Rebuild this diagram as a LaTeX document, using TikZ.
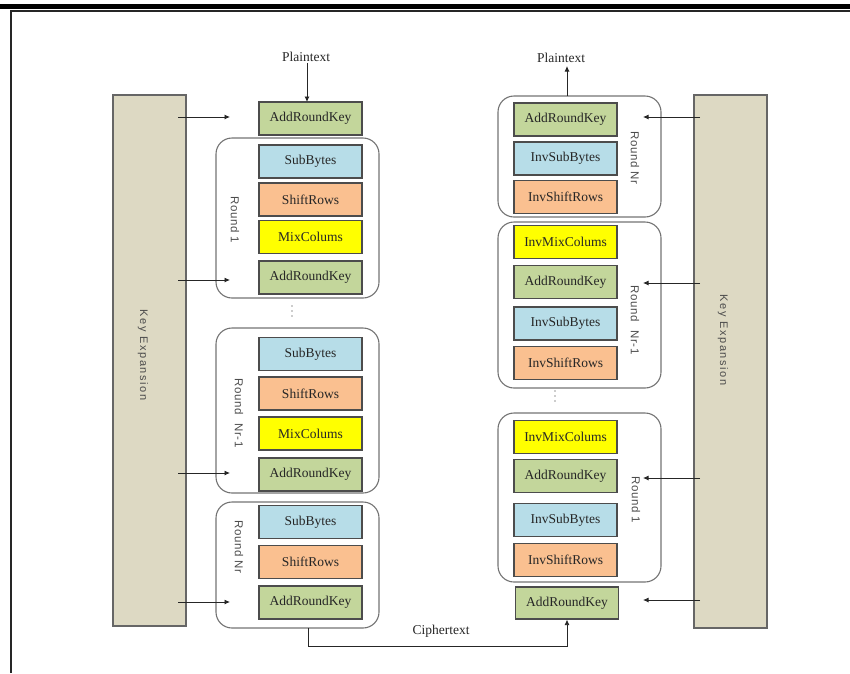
\documentclass[tikz,border=0pt]{standalone}
\usepackage{fontspec}
\setmainfont{Liberation Serif}
\newfontfamily\lblsans[LetterSpace=5]{Liberation Sans}
\newfontfamily\kesans[LetterSpace=14]{Liberation Sans}
\usetikzlibrary{arrows.meta,calc}
\definecolor{cgreen}{HTML}{C3D69B}
\definecolor{cblue}{HTML}{B7DDE8}
\definecolor{corange}{HTML}{FAC090}
\definecolor{cyellow}{HTML}{FFFF00}
\definecolor{ckey}{HTML}{DDD9C3}
\tikzset{
  op/.style={rectangle, draw=black!70, line width=1.2pt, minimum width=103pt, minimum height=33pt, inner sep=0pt, text=black!85, font=\fontsize{13.5}{15}\selectfont},
  ark/.style={op, fill=cgreen},
  sbx/.style={op, fill=cblue},
  srx/.style={op, fill=corange},
  mcx/.style={op, fill=cyellow},
  rnd/.style={draw=black!55, line width=1.1pt, rounded corners=16pt},
  keybox/.style={draw=black!60, fill=ckey, line width=1.2pt},
  rlabel/.style={rotate=-90, text=black!70, font=\lblsans\fontsize{11.5}{13}\selectfont},
  klabel/.style={rotate=-90, text=black!70, font=\kesans\fontsize{11}{13}\selectfont},
  ptxt/.style={font=\fontsize{13.5}{15}\selectfont, text=black!85, inner sep=1pt},
  arr/.style={-{Latex[length=5.5pt,width=5pt]}, line width=0.8pt, black!85},
  dotf/.style={fill=black!40, circle, inner sep=0pt, minimum size=1.6pt}
}
\begin{document}
\begin{tikzpicture}[x=1pt,y=-1pt]
\useasboundingbox (0,0) rectangle (850,673);
% frame
\fill[black] (0,4) rectangle (850,8.5);
\draw[line width=1.5pt, black!85] (11,673) -- (11,11) -- (850,11);

% key expansion boxes
\draw[keybox] (113,95) rectangle (186,626);
\draw[keybox] (694,95) rectangle (767,628);
\node[klabel] (kel) at (143,355) {Key Expansion};
\node[klabel] (ker) at (723,340) {Key Expansion};

% left rounded boxes
\draw[rnd] (216,138) rectangle (379,298);
\draw[rnd] (216,328) rectangle (379,493);
\draw[rnd] (216,502) rectangle (379,628);
\coordinate (lrnbot) at (308,628);

% right rounded boxes
\draw[rnd] (498,96) rectangle (661,217);
\coordinate (rrntop) at (567,96);
\draw[rnd] (498,222) rectangle (661,388);
\draw[rnd] (498,413) rectangle (661,582);

% left column
\node[ark] (lark0) at (310.5,118.5) {AddRoundKey};
\node[sbx] (lsb1) at (310.5,161.5) {SubBytes};
\node[srx] (lsr1) at (310.5,199.5) {ShiftRows};
\node[mcx] (lmc1) at (310.5,237) {MixColums};
\node[ark] (lark1) at (310.5,277.5) {AddRoundKey};
\node[sbx] (lsb2) at (310.5,354) {SubBytes};
\node[srx] (lsr2) at (310.5,393.5) {ShiftRows};
\node[mcx] (lmc2) at (310.5,433.5) {MixColums};
\node[ark] (lark2) at (310.5,474.5) {AddRoundKey};
\node[sbx] (lsb3) at (310.5,522) {SubBytes};
\node[srx] (lsr3) at (310.5,562) {ShiftRows};
\node[ark] (lark3) at (310.5,602.5) {AddRoundKey};

\node[rlabel] (lr1) at (235,220) {Round 1};
\node[rlabel] (lrn1) at (239,413) {Round\hspace{5pt} Nr-1};
\node[rlabel] (lrn) at (239,547) {Round Nr};
\foreach \yy [count=\i] in {306,311,316} \node[dotf] (ld\i) at (292,\yy) {};

% right column
\node[ark] (rark0) at (565.5,119.5) {AddRoundKey};
\node[sbx] (risb0) at (565.5,158.5) {InvSubBytes};
\node[srx] (risr0) at (565.5,197) {InvShiftRows};
\node[mcx] (rimc1) at (565.5,242) {InvMixColums};
\node[ark] (rark1) at (565.5,282) {AddRoundKey};
\node[sbx] (risb1) at (565.5,323.5) {InvSubBytes};
\node[srx] (risr1) at (565.5,363) {InvShiftRows};
\node[mcx] (rimc2) at (565.5,437) {InvMixColums};
\node[ark] (rark2) at (565.5,476) {AddRoundKey};
\node[sbx] (risb2) at (565.5,520) {InvSubBytes};
\node[srx] (risr2) at (565.5,560) {InvShiftRows};
\node[ark, minimum height=32pt] (rfark) at (567,603) {AddRoundKey};

\node[rlabel] (rrnl) at (635,158) {Round Nr};
\node[rlabel] (rrn1l) at (635,320) {Round\hspace{5pt} Nr-1};
\node[rlabel] (rr1l) at (636,500) {Round 1};
\foreach \yy [count=\i] in {391,396,401} \node[dotf] (rd\i) at (555,\yy) {};

% plaintext
\node[ptxt] (ptl) at (306,57) {Plaintext};
\draw[arr] (ptl.south -| 307,0) -- (307,102);
\node[ptxt] (ptr) at (561,58) {Plaintext};
\draw[arr] (rrntop) -- (567,66);

% ciphertext
\node[ptxt] (ctx) at (441,631) {Ciphertext};
\draw[arr] (lrnbot) -- (308,646) -- (567,646) -- (rfark.south);

% key arrows left
\coordinate (la0) at (230,117);
\coordinate (la1) at (230,280);
\coordinate (la2) at (230,473);
\coordinate (la3) at (230,602);
\foreach \c in {la0,la1,la2,la3}{
  \draw[arr] (\c -| 178,0) -- (\c);
}
% key arrows right
\coordinate (ra0) at (643,117);
\coordinate (ra1) at (643,283);
\coordinate (ra2) at (643,478);
\coordinate (ra3) at (643,600);
\foreach \c in {ra0,ra1,ra2,ra3}{
  \draw[arr] (\c -| 700,0) -- (\c);
}
\end{tikzpicture}
\end{document}
